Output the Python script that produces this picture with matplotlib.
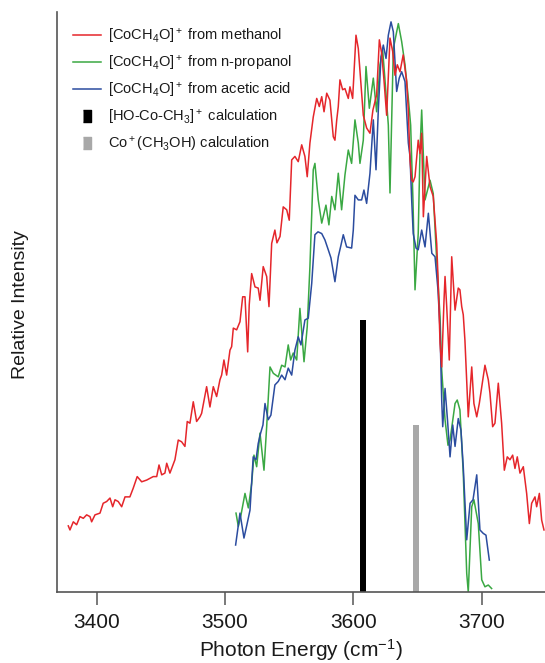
import matplotlib
matplotlib.use("Agg")
import matplotlib.pyplot as plt
from matplotlib.lines import Line2D

plt.rcParams['font.family'] = ['Liberation Sans', 'DejaVu Sans']
plt.rcParams['mathtext.fontset'] = 'custom'
plt.rcParams['mathtext.rm'] = 'Liberation Sans'
plt.rcParams['mathtext.it'] = 'Liberation Sans:italic'

# ---- data (photon energy in cm^-1, relative intensity in arbitrary units 0-100) ----
methanol_x = [3377.9, 3379.2, 3381.8, 3384.4, 3387.0, 3389.6, 3392.2, 3394.8, 3396.1, 3398.7,
              3402.6, 3405.1, 3407.8, 3410.4, 3412.5, 3414.3, 3416.8, 3419.5, 3422.1, 3425.9,
              3428.5, 3431.6, 3435.1, 3439.0, 3441.5, 3444.1, 3446.8, 3448.6, 3450.7, 3453.2,
              3454.6, 3457.1, 3461.0, 3463.6, 3466.2, 3468.8, 3470.6, 3472.7, 3475.3, 3477.9,
              3480.5, 3481.8, 3485.7, 3488.3, 3490.9, 3493.5, 3496.1, 3497.4, 3499.2, 3501.3,
              3503.9, 3505.2, 3506.5, 3509.1, 3511.7, 3513.8, 3515.6, 3517.7, 3518.9, 3520.8,
              3523.4, 3525.9, 3527.3, 3529.8, 3532.5, 3534.3, 3536.4, 3538.9, 3540.5, 3542.9,
              3545.4, 3548.1, 3550.1, 3552.0, 3554.5, 3557.1, 3559.8, 3562.3, 3564.1, 3566.2,
              3568.8, 3571.5, 3573.5, 3575.4, 3577.2, 3579.3, 3581.8, 3584.4, 3585.7, 3587.1,
              3588.3, 3589.6, 3591.7, 3593.5, 3596.1, 3597.4, 3599.5, 3602.1, 3603.9, 3605.8,
              3607.8, 3610.4, 3613.0, 3615.3, 3618.2, 3620.3, 3622.1, 3623.9, 3626.0, 3628.6,
              3630.7, 3632.5, 3634.3, 3636.4, 3638.9, 3641.6, 3642.8, 3644.2, 3645.5, 3646.7,
              3648.1, 3650.6, 3652.0, 3653.3, 3654.6, 3657.2, 3659.8, 3662.3, 3665.0, 3666.2,
              3667.6, 3668.9, 3670.7, 3671.5, 3672.8, 3674.8, 3676.7, 3679.3, 3681.8, 3683.1,
              3684.5, 3685.7, 3687.0, 3689.6, 3692.3, 3694.0, 3696.2, 3698.2, 3700.1, 3702.6,
              3705.2, 3706.5, 3708.6, 3710.4, 3713.0, 3715.6, 3717.7, 3720.0, 3722.1, 3724.2,
              3726.0, 3727.8, 3729.9, 3732.5, 3735.1, 3737.2, 3739.0, 3741.6, 3742.9, 3745.0,
              3746.8, 3748.6]
methanol_y = [11.4, 10.7, 12.1, 11.6, 13.0, 12.7, 13.3, 13.0, 12.1, 13.3,
              13.6, 15.3, 15.6, 16.2, 14.7, 15.9, 15.6, 14.7, 16.4, 16.4,
              17.9, 19.9, 19.0, 19.3, 19.6, 19.9, 19.9, 21.9, 20.2, 20.5,
              22.2, 20.5, 22.8, 26.2, 25.9, 25.1, 29.4, 29.1, 32.8, 29.4,
              30.2, 30.8, 35.4, 31.9, 35.4, 33.7, 36.6, 37.4, 40.0, 37.4,
              41.7, 42.3, 45.5, 45.2, 46.6, 50.9, 50.9, 41.4, 49.5, 54.9,
              52.6, 52.4, 50.3, 56.1, 54.4, 49.2, 60.1, 62.4, 60.2, 61.3,
              66.4, 65.9, 64.1, 74.5, 75.1, 74.2, 77.1, 75.1, 71.6, 77.4,
              81.9, 85.1, 83.7, 85.4, 82.8, 86.0, 84.8, 78.5, 77.9, 81.4,
              83.7, 88.3, 86.6, 86.8, 85.1, 87.1, 85.1, 96.0, 93.7, 88.0,
              82.2, 80.0, 79.1, 83.1, 85.7, 95.2, 92.9, 88.3, 82.2, 95.5,
              93.2, 89.1, 90.9, 89.7, 92.6, 88.0, 83.4, 74.5, 71.0, 70.7,
              71.6, 77.9, 75.6, 79.1, 64.7, 75.1, 69.9, 68.2, 60.1, 53.2,
              42.9, 38.8, 50.3, 54.4, 49.2, 40.0, 57.8, 48.6, 52.4, 52.1,
              49.2, 47.8, 43.4, 30.2, 38.8, 32.5, 30.2, 32.5, 35.4, 39.1,
              36.6, 34.3, 28.5, 29.1, 36.0, 29.1, 21.0, 23.3, 22.8, 23.6,
              21.3, 23.3, 20.5, 21.6, 17.0, 11.8, 15.3, 16.4, 14.7, 17.0,
              12.4, 10.7]

propanol_x = [3508.6, 3510.4, 3512.5, 3515.6, 3518.2, 3520.8, 3522.6, 3524.7, 3527.3, 3530.4,
              3532.5, 3535.1, 3537.7, 3541.5, 3544.2, 3546.8, 3549.3, 3551.2, 3553.2, 3555.9,
              3558.4, 3561.6, 3564.1, 3566.2, 3568.8, 3570.1, 3572.7, 3575.4, 3578.7, 3581.0,
              3583.2, 3585.7, 3588.3, 3590.9, 3593.5, 3596.1, 3598.7, 3601.3, 3603.9, 3605.2,
              3607.8, 3609.9, 3612.5, 3615.6, 3618.2, 3620.8, 3622.9, 3624.7, 3627.3, 3628.6,
              3631.2, 3635.1, 3637.7, 3640.3, 3642.9, 3644.7, 3646.5, 3648.1, 3650.6, 3652.0,
              3653.3, 3655.9, 3659.8, 3662.3, 3665.0, 3667.6, 3668.9, 3671.5, 3673.8, 3675.4,
              3679.3, 3681.0, 3683.1, 3685.7, 3688.4, 3689.6, 3692.3, 3694.0, 3697.4, 3700.1,
              3702.6, 3705.2, 3707.8]
propanol_y = [13.6, 11.3, 13.3, 17.0, 14.5, 18.7, 23.6, 21.6, 27.4, 21.0,
              28.5, 38.8, 37.7, 37.1, 39.1, 38.8, 42.6, 40.0, 41.2, 40.0,
              48.9, 39.7, 45.7, 56.1, 72.8, 73.9, 67.6, 63.6, 66.7, 63.3,
              68.2, 65.9, 72.2, 65.9, 71.9, 76.2, 73.9, 81.4, 77.4, 73.9,
              77.9, 90.6, 83.4, 88.6, 82.8, 90.9, 93.4, 88.3, 80.5, 68.8,
              93.7, 98.0, 94.9, 90.9, 85.1, 80.5, 67.6, 52.1, 61.8, 76.2,
              83.1, 67.6, 71.0, 68.7, 57.2, 47.5, 38.3, 29.7, 25.3, 26.2,
              32.5, 33.1, 31.4, 20.5, 3.2, 0.0, 14.7, 15.9, 11.8, 2.1,
              0.9, 1.2, 0.6]

acetic_x = [3508.3, 3511.7, 3514.8, 3517.1, 3519.5, 3522.0, 3524.2, 3525.9, 3527.8, 3529.6,
            3531.2, 3533.7, 3535.8, 3538.9, 3541.5, 3544.2, 3546.8, 3549.3, 3552.0, 3554.5,
            3557.1, 3559.2, 3562.3, 3564.9, 3567.6, 3570.1, 3572.5, 3575.4, 3577.9, 3580.5,
            3582.6, 3585.7, 3588.3, 3590.4, 3592.2, 3594.8, 3598.7, 3600.0, 3601.3, 3603.9,
            3606.5, 3608.3, 3610.4, 3613.0, 3615.6, 3617.7, 3619.5, 3621.6, 3623.4, 3625.5,
            3627.3, 3629.4, 3631.2, 3632.5, 3633.8, 3635.8, 3637.7, 3640.3, 3642.9, 3644.2,
            3645.5, 3646.7, 3648.9, 3650.6, 3653.3, 3655.9, 3658.5, 3661.2, 3663.7, 3666.0,
            3667.6, 3668.9, 3669.7, 3671.5, 3673.4, 3675.4, 3677.5, 3679.3, 3681.8, 3683.9,
            3685.7, 3688.4, 3691.0, 3693.3, 3696.2, 3698.7, 3701.3, 3703.4, 3706.0]
acetic_y = [8.1, 13.6, 9.3, 11.6, 14.1, 23.3, 22.8, 25.6, 27.4, 28.8,
            32.5, 29.7, 30.5, 35.7, 36.3, 37.4, 36.6, 38.6, 37.4, 41.7,
            44.0, 42.6, 46.9, 47.2, 53.2, 61.6, 62.1, 61.8, 60.7, 59.0,
            57.6, 53.5, 57.8, 59.8, 61.6, 59.5, 59.3, 62.4, 68.4, 67.6,
            67.6, 69.3, 67.0, 72.2, 81.4, 72.8, 83.1, 92.3, 94.3, 92.0,
            96.0, 98.3, 96.6, 91.4, 86.3, 88.6, 89.7, 88.0, 77.4, 75.1,
            67.6, 61.8, 59.3, 59.0, 62.4, 59.5, 65.3, 58.4, 57.8, 52.1,
            45.2, 33.1, 28.5, 35.1, 29.7, 23.3, 28.8, 25.1, 29.9, 27.9,
            21.6, 9.0, 15.3, 15.9, 20.2, 10.7, 10.1, 9.8, 5.5]

calc_x = [3607.5, 3648.6]
calc_y = [46.9, 28.8]
calc_labels = ['[HO-Co-CH$_3$]$^+$ calculation', 'Co$^+$(CH$_3$OH) calculation']
series_labels = ['[CoCH$_4$O]$^+$ from methanol',
                 '[CoCH$_4$O]$^+$ from n-propanol',
                 '[CoCH$_4$O]$^+$ from acetic acid']
xticks = [3400, 3500, 3600, 3700]

# ---- styling ----
c_red = '#e5262b'
c_green = '#3aa843'
c_blue = '#2b4c9f'
c_black = '#000000'
c_gray = '#a8a8a8'
txt = '#1a1a1a'
spine_c = '#555555'

fig = plt.figure(figsize=(5.45, 6.63), dpi=100)
ax = fig.add_axes([57 / 545, 71 / 663, 488 / 545, 580 / 663])

ax.bar(calc_x, calc_y, width=4.7, color=[c_black, c_gray], zorder=1)
ax.plot(methanol_x, methanol_y, color=c_red, lw=1.1, zorder=3)
ax.plot(propanol_x, propanol_y, color=c_green, lw=1.1, zorder=2)
ax.plot(acetic_x, acetic_y, color=c_blue, lw=1.1, zorder=2)

ax.set_xlim(3369.1, 3749.4)
ax.set_ylim(0, 100)
ax.set_xticks(xticks)
ax.set_yticks([])
ax.tick_params(axis='x', direction='out', length=9, width=1.1, color=spine_c,
               labelsize=15, labelcolor=txt, pad=6)
for s in ['top', 'right']:
    ax.spines[s].set_visible(False)
for s in ['left', 'bottom']:
    ax.spines[s].set_color(spine_c)
    ax.spines[s].set_linewidth(1.2)

ax.set_xlabel('Photon Energy (cm$^{-1}$)', fontsize=15, color=txt, labelpad=4)
ax.set_ylabel('Relative Intensity', fontsize=14, color=txt)
ax.yaxis.set_label_coords(-0.058, 0.495)

rect = [(-0.3, -0.5), (0.3, -0.5), (0.3, 0.5), (-0.3, 0.5)]
handles = [Line2D([], [], color=c_red, lw=1.1),
           Line2D([], [], color=c_green, lw=1.1),
           Line2D([], [], color=c_blue, lw=1.1),
           Line2D([], [], color=c_black, marker=rect, markersize=8.5, linestyle='None'),
           Line2D([], [], color=c_gray, marker=rect, markersize=8.5, linestyle='None')]
labels = series_labels + calc_labels
leg = ax.legend(handles, labels, loc='upper left', bbox_to_anchor=(0.033, 0.975),
                frameon=False, fontsize=10.5, handlelength=1.9, handletextpad=0.5,
                labelspacing=0.55, borderpad=0, borderaxespad=0)
for t in leg.get_texts():
    t.set_color(txt)

fig.savefig('out.png', dpi=100)
